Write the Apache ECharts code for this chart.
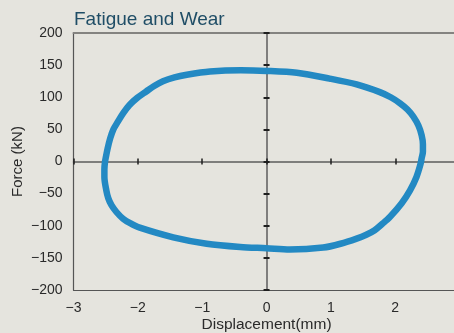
<!DOCTYPE html>
<html>
<head>
<meta charset="utf-8">
<script src="https://cdn.jsdelivr.net/npm/echarts@6/dist/echarts.min.js"></script>
<style>
  html, body { margin: 0; padding: 0; background: #e5e4de; }
  #chart { width: 454px; height: 333px; }
</style>
</head>
<body>
<div id="chart"></div>
<script>
// Force–displacement hysteresis loop (one closed cycle, traced clockwise from the left side)
const displacementMm = [
  -2.51, -2.47, -2.43, -2.38, -2.31, -2.23, -2.13, -2.01, -1.87, -1.74,
  -1.61, -1.43, -1.24, -0.88, -0.40,  0.00,  0.47,  0.98,  1.40,  1.76,
   1.93,  2.07,  2.19,  2.28,  2.36,  2.41,  2.43,  2.43,  2.41,  2.39,
   2.33,  2.23,  2.10,  1.92,  1.80,  1.68,  1.55,  1.40,  1.15,  0.88,
   0.36,  0.00, -0.41, -0.93, -1.45, -1.97, -2.12, -2.23, -2.33, -2.41,
  -2.46, -2.49, -2.52, -2.52, -2.51
];
const forceKN = [
     0,   20,   36,   50,   62,   75,   88,   99,  109,  118,
   125,  131,  135,  140,  142,  141,  138,  129,  120,  108,
   100,   91,   81,   70,   56,   41,   27,   15,    5,   -5,
   -24,  -45,  -65,  -86,  -97, -107, -114, -120, -128, -134,
  -137, -135, -133, -128, -118, -103,  -96,  -89,  -79,  -68,
   -57,  -45,  -24,  -12,    0
];

const xTicks = [-3, -2, -1, 0, 1, 2, 3];
const yTicks = [-200, -150, -100, -50, 0, 50, 100, 150, 200];

const chartTitle = 'Fatigue and Wear';
const xName = 'Displacement(mm)';
const yName = 'Force (kN)';

const loop = displacementMm.map((x, i) => [x, forceKN[i]]);

const xRange = { min: xTicks[0], max: xTicks[xTicks.length - 1], interval: xTicks[1] - xTicks[0] };
const yRange = { min: yTicks[0], max: yTicks[yTicks.length - 1], interval: yTicks[1] - yTicks[0] };

const minus = v => String(v).replace('-', '\u2212');
const textColor = '#2a2a2a';

// Crossing tick marks on the centre lines are built from one outward and one inward axis.
function centreX(inside) {
  return Object.assign({
    type: 'value', position: 'bottom',
    axisLine: { show: !inside, onZero: true, onZeroAxisIndex: 0, lineStyle: { color: '#5c5c5c', width: 1.5 } },
    axisTick: { show: true, inside: inside, length: 3, lineStyle: { color: '#1e1e1e', width: 1.5 } },
    axisLabel: { show: false }, splitLine: { show: false }
  }, xRange);
}
function centreY(inside) {
  return Object.assign({
    type: 'value', position: 'left',
    axisLine: { show: !inside, onZero: true, onZeroAxisIndex: 0, lineStyle: { color: '#5c5c5c', width: 1.5 } },
    axisTick: { show: true, inside: inside, length: 3, lineStyle: { color: '#1e1e1e', width: 2 } },
    axisLabel: { show: false }, splitLine: { show: false }
  }, yRange);
}

const chart = echarts.init(document.getElementById('chart'), null, { renderer: 'canvas' });
chart.setOption({
  backgroundColor: '#e5e4de',
  animation: false,
  title: {
    text: chartTitle, left: 74, top: 10, padding: 0,
    textStyle: { color: '#1f4d66', fontSize: 19, fontWeight: 'normal', fontFamily: 'Liberation Sans, Arial, sans-serif' }
  },
  grid: { left: 73.5, right: -5.6, top: 33, bottom: 43, outerBoundsMode: 'none', containLabel: false },
  textStyle: { fontFamily: 'Liberation Sans, Arial, sans-serif' },
  xAxis: [
    Object.assign({
      type: 'value', position: 'bottom',
      name: xName, nameLocation: 'middle', nameGap: 27, nameMoveOverlap: false,
      nameTextStyle: { color: textColor, fontSize: 15.5 },
      axisLine: { show: true, onZero: false, lineStyle: { color: '#555', width: 1.2 } },
      axisTick: { show: false },
      axisLabel: { color: textColor, fontSize: 14, margin: 11, formatter: minus },
      splitLine: { show: false }
    }, xRange),
    Object.assign({
      type: 'value', position: 'top',
      axisLine: { show: true, onZero: false, lineStyle: { color: '#848380', width: 2 } },
      axisTick: { show: false }, axisLabel: { show: false }, splitLine: { show: false }
    }, xRange),
    centreX(false),
    centreX(true)
  ],
  yAxis: [
    Object.assign({
      type: 'value', position: 'left',
      name: yName, nameLocation: 'middle', nameGap: 48, nameRotate: 90, nameMoveOverlap: false,
      nameTextStyle: { color: textColor, fontSize: 15 },
      axisLine: { show: true, onZero: false, lineStyle: { color: '#555', width: 1.2 } },
      axisTick: { show: false },
      axisLabel: { color: textColor, fontSize: 14, margin: 11, formatter: minus },
      splitLine: { show: false }
    }, yRange),
    centreY(false),
    centreY(true)
  ],
  series: [{
    type: 'line',
    xAxisIndex: 0, yAxisIndex: 0,
    data: loop,
    smooth: 0.3,
    showSymbol: false,
    lineStyle: { color: '#2389c3', width: 6.5 },
    z: 5
  }]
});
</script>
</body>
</html>
